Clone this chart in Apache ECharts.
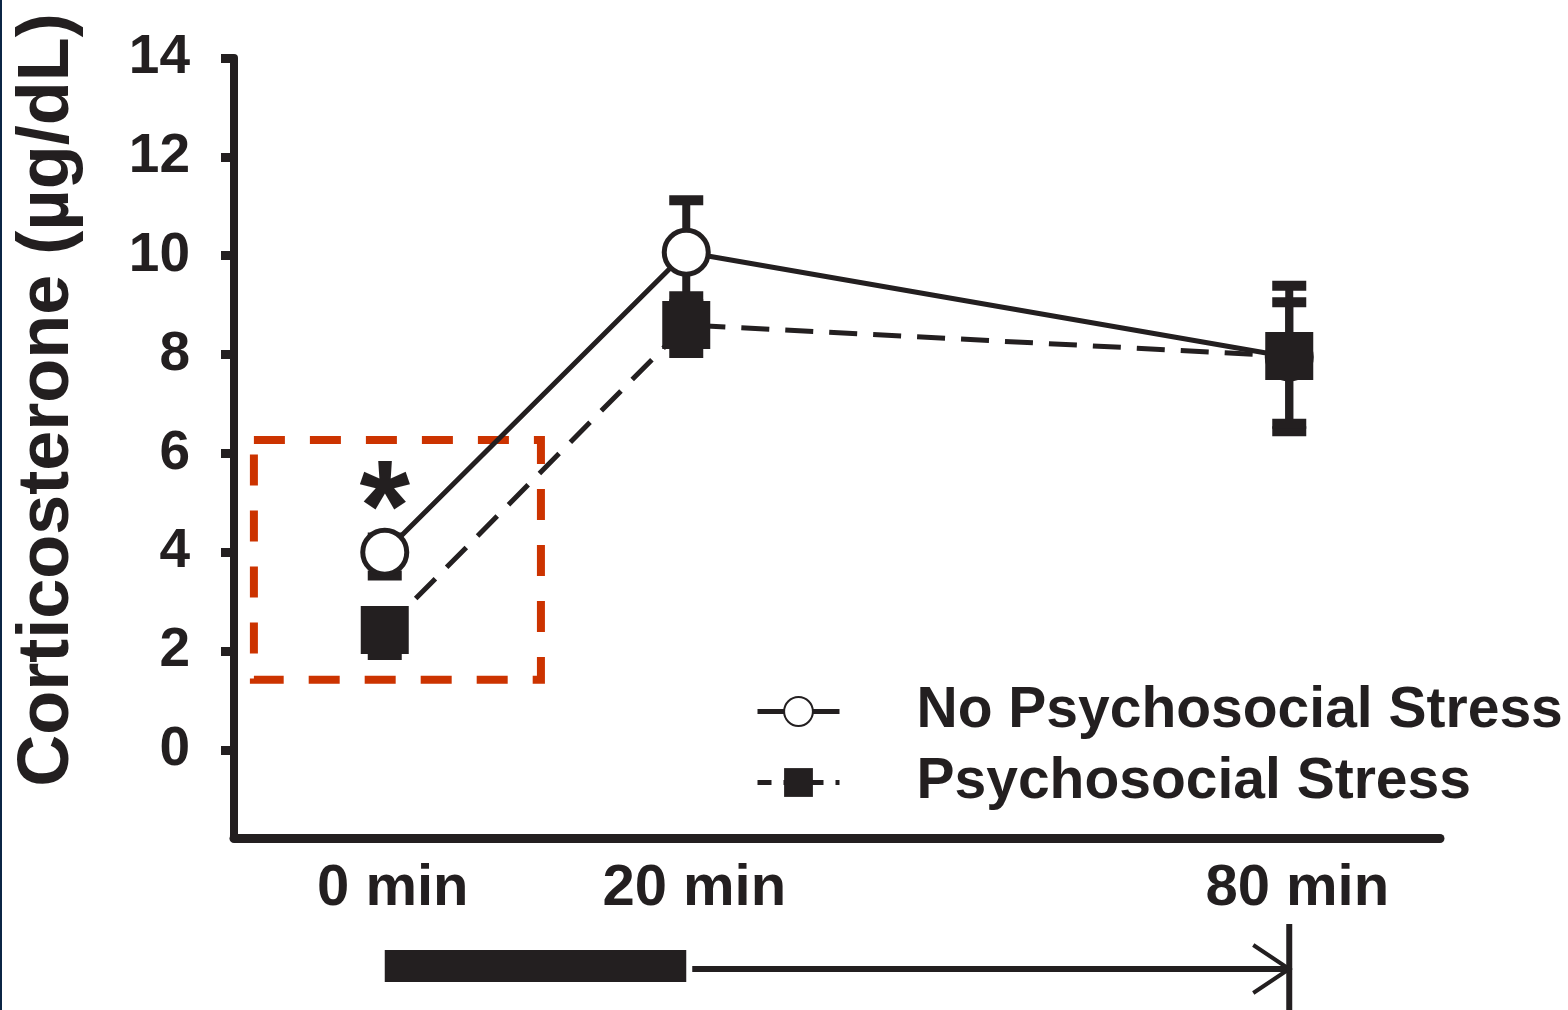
<!DOCTYPE html>
<html>
<head>
<meta charset="UTF-8">
<title>Corticosterone</title>
<script src="https://cdn.jsdelivr.net/npm/echarts@6/dist/echarts.min.js"></script>
<style>html,body{margin:0;padding:0;background:#fff;} #main{width:1568px;height:1010px;}</style>
</head>
<body>
<div id="main"></div>
<script>
// time points: label and slot on the x axis (80 min sits two slots after 20 min)
var timeLabels = ['0 min', '20 min', '80 min'];
var timeSlots = [0, 1, 3];
var yTicks = [0, 2, 4, 6, 8, 10, 12, 14];

// no psychosocial stress: mean, top and bottom of the error bar
var noStressMean = [4.0, 10.07, 7.95];
var noStressHigh = [4.3, 11.12, 9.39];
var noStressLow = [3.53, 9.02, 6.45];

// psychosocial stress
var stressMean = [2.43, 8.6, 7.97];
var stressHigh = [2.8, 9.18, 9.06];
var stressLow = [1.92, 8.03, 6.6];

var ink = '#231f20';
var font = 'Liberation Sans, Arial, sans-serif';

var mychart = echarts.init(document.getElementById('main'));

function pairs(ys) {
  return ys.map(function (v, i) { return [timeSlots[i], v]; });
}
function bars(lo, hi) {
  return lo.map(function (v, i) { return [timeSlots[i], v, hi[i]]; });
}

// vertical error bar with caps
function errRender(params, api) {
  var x = api.value(0);
  var top = api.coord([x, api.value(2)]);
  var bot = api.coord([x, api.value(1)]);
  var half = 17;
  return {
    type: 'group',
    children: [
      { type: 'line', shape: { x1: top[0], y1: top[1], x2: bot[0], y2: bot[1] }, style: { stroke: ink, lineWidth: 8 } },
      { type: 'line', shape: { x1: top[0] - half, y1: top[1], x2: top[0] + half, y2: top[1] }, style: { stroke: ink, lineWidth: 10 } },
      { type: 'line', shape: { x1: bot[0] - half, y1: bot[1], x2: bot[0] + half, y2: bot[1] }, style: { stroke: ink, lineWidth: 10 } }
    ]
  };
}

var option = {
  backgroundColor: '#fff',
  animation: false,
  grid: { left: 234, right: 128, top: 58, bottom: 172, outerBoundsMode: 'none' },
  xAxis: {
    type: 'value',
    min: -0.5,
    max: 3.5,
    splitLine: { show: false },
    axisLine: { show: true, onZero: false, lineStyle: { color: ink, width: 9 } },
    axisTick: { show: false },
    axisLabel: {
      customValues: timeSlots,
      margin: 22,
      color: ink,
      fontSize: 58,
      fontWeight: 'bold',
      fontFamily: font,
      padding: [0, 0, 0, 16],
      formatter: function (v) { return timeLabels[timeSlots.indexOf(v)]; }
    }
  },
  yAxis: {
    type: 'value',
    min: -1.78,
    max: 14,
    splitLine: { show: false },
    axisLine: { show: true, onZero: false, lineStyle: { color: ink, width: 8 } },
    axisTick: { show: true, customValues: yTicks, length: 13, lineStyle: { color: ink, width: 9 } },
    axisLabel: {
      customValues: yTicks,
      margin: 44,
      color: ink,
      fontSize: 55,
      fontWeight: 'bold',
      fontFamily: font
    },
    name: 'Corticosterone (\u00b5g/dL)',
    nameLocation: 'middle',
    nameGap: 150,
    nameTextStyle: { color: ink, fontSize: 72, fontWeight: 'bold', fontFamily: font, padding: [0, 0, 0, 96] }
  },
  legend: {
    orient: 'vertical',
    left: 750,
    top: 678,
    itemWidth: 82,
    itemHeight: 36,
    itemGap: 14,
    selectedMode: false,
    textStyle: { color: ink, fontSize: 57, fontWeight: 'bold', fontFamily: font, padding: [0, 0, 0, 72] },
    data: [
      { name: 'No Psychosocial Stress', lineStyle: { width: 5, type: 'solid' } },
      { name: 'Psychosocial Stress', lineStyle: { width: 5, type: [14, 12] } }
    ]
  },
  series: [
    {
      type: 'custom',
      name: 'err1',
      renderItem: errRender,
      encode: { x: 0, y: [1, 2] },
      data: bars(noStressLow, noStressHigh),
      z: 1
    },
    {
      type: 'custom',
      name: 'err2',
      renderItem: errRender,
      encode: { x: 0, y: [1, 2] },
      data: bars(stressLow, stressHigh),
      z: 1
    },
    {
      type: 'line',
      name: 'No Psychosocial Stress',
      data: pairs(noStressMean),
      symbol: 'circle',
      symbolSize: 44,
      lineStyle: { color: ink, width: 5 },
      itemStyle: { color: '#fff', borderColor: ink, borderWidth: 5 },
      z: 2,
      markArea: {
        silent: true,
        itemStyle: { color: 'rgba(0,0,0,0)', borderColor: '#cc3300', borderWidth: 8, borderType: [31, 25] },
        data: [[{ coord: [-0.434, 6.27] }, { coord: [0.518, 1.42] }]]
      },
      markPoint: {
        silent: true,
        symbol: 'circle',
        symbolSize: 1,
        itemStyle: { color: 'rgba(0,0,0,0)' },
        label: { show: true, position: 'inside', formatter: '*', color: ink, fontSize: 130, fontWeight: 'bold', fontFamily: font },
        data: [{ coord: [0, 4.75] }]
      }
    },
    {
      type: 'line',
      name: 'Psychosocial Stress',
      data: pairs(stressMean),
      symbol: 'rect',
      symbolSize: 48,
      lineStyle: { color: ink, width: 5, type: [28, 16] },
      itemStyle: { color: ink },
      z: 3
    }
  ]
};

mychart.setOption(option);

// time line under the axis: stress period bar, then arrow to 80 min
var p0 = mychart.convertToPixel({ gridIndex: 0 }, [timeSlots[0], 0]);
var p1 = mychart.convertToPixel({ gridIndex: 0 }, [timeSlots[1], 0]);
var p2 = mychart.convertToPixel({ gridIndex: 0 }, [timeSlots[2], 0]);

mychart.setOption({
  graphic: [
    { type: 'rect', shape: { x: 0, y: 0, width: 2, height: 1010 }, style: { fill: '#0b2545' } },
    { type: 'rect', shape: { x: p0[0], y: 950, width: p1[0] - p0[0], height: 32 }, style: { fill: ink } },
    { type: 'line', shape: { x1: p1[0] + 6, y1: 969, x2: p2[0], y2: 969 }, style: { stroke: ink, lineWidth: 6 } },
    { type: 'polyline', shape: { points: [[p2[0] - 36, 945], [p2[0], 969], [p2[0] - 36, 993]] }, style: { stroke: ink, lineWidth: 4, fill: null } },
    { type: 'line', shape: { x1: p2[0], y1: 924, x2: p2[0], y2: 1010 }, style: { stroke: ink, lineWidth: 6 } }
  ]
});
</script>
</body>
</html>
